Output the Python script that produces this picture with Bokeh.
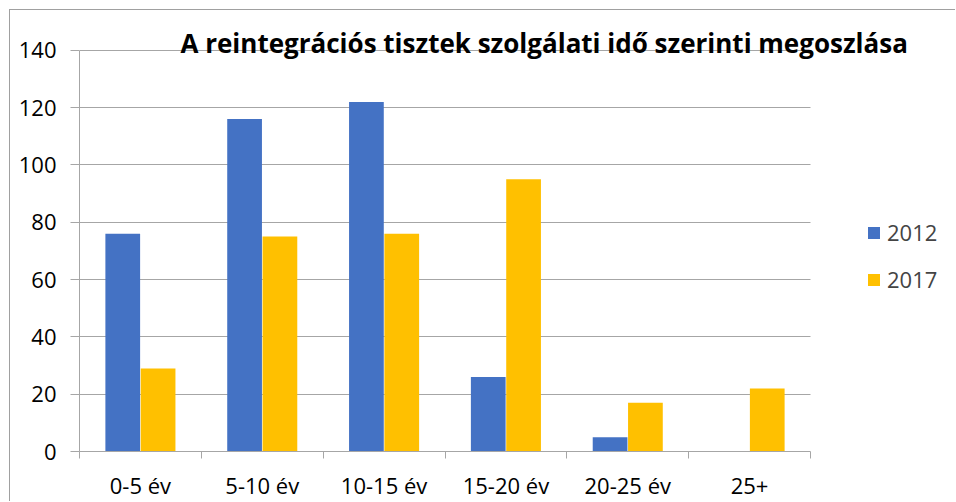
from bokeh.plotting import figure
from bokeh.models import ColumnDataSource, FixedTicker, Label, Legend, LegendItem, Range1d
from bokeh.transform import dodge
from bokeh.embed import file_html
from bokeh.resources import INLINE

categories = ["0-5 év", "5-10 év", "10-15 év", "15-20 év", "20-25 év", "25+"]
series_names = ["2012", "2017"]
values_2012 = [76, 116, 122, 26, 5, 0]
values_2017 = [29, 75, 76, 95, 17, 22]
y_ticks = [0, 20, 40, 60, 80, 100, 120, 140]
title_text = "A reintegrációs tisztek  szolgálati idő szerinti megoszlása"

BLUE = "#4472C4"
YELLOW = "#FFC000"
GRID = "#a6a6a6"
FONT = "Open Sans"

# layout (pixels)
W, H = 946, 492
ML, MB = 69, 49
PLOT_W, PLOT_H = 731, 403   # width of the 6 categories, height of 0..140
n = len(categories)
y_max = y_ticks[-1]
x_end = n * (W - ML) / PLOT_W
y_end = y_max * (H - MB) / PLOT_H

centers = [i + 0.5 for i in range(n)]
src = ColumnDataSource(dict(x=centers, a=values_2012, b=values_2017))

p = figure(width=W, height=H, output_backend="svg", toolbar_location=None,
           x_range=Range1d(0, x_end), y_range=Range1d(0, y_end),
           min_border_left=ML, min_border_right=0, min_border_top=0, min_border_bottom=MB)
p.styles = {"border-left": "1px solid #a0a0a0", "border-top": "1px solid #a0a0a0",
            "margin-left": "9px", "margin-top": "9px"}
p.outline_line_color = None
p.background_fill_color = "white"
p.border_fill_color = "white"

r1 = p.vbar(x=dodge("x", -0.145, range=p.x_range), top="a", width=0.285, source=src,
            fill_color=BLUE, line_color=None)
r2 = p.vbar(x=dodge("x", 0.145, range=p.x_range), top="b", width=0.285, source=src,
            fill_color=YELLOW, line_color=None)

# y axis
p.yaxis.ticker = FixedTicker(ticks=y_ticks)
p.yaxis.bounds = (0, y_max)
p.yaxis.axis_line_color = GRID
p.yaxis.major_tick_line_color = GRID
p.yaxis.major_tick_out = 9
p.yaxis.major_tick_in = 0
p.yaxis.minor_tick_line_color = None
p.yaxis.major_label_text_font = FONT
p.yaxis.major_label_text_font_size = "22px"
p.yaxis.major_label_text_color = "black"
p.yaxis.major_label_standoff = 14
p.ygrid.ticker = FixedTicker(ticks=y_ticks)
p.ygrid.grid_line_color = GRID
p.ygrid.grid_line_width = 1
p.ygrid.cross_bounds = (0, n)

# x axis
p.xaxis.ticker = FixedTicker(ticks=centers, minor_ticks=list(range(n + 1)))
p.xaxis.bounds = (0, n)
p.xaxis.major_label_overrides = {c: lab for c, lab in zip(centers, categories)}
p.xaxis.axis_line_color = GRID
p.xaxis.major_tick_line_color = None
p.xaxis.minor_tick_line_color = GRID
p.xaxis.minor_tick_out = 7
p.xaxis.minor_tick_in = 0
p.xaxis.major_label_text_font = FONT
p.xaxis.major_label_text_font_size = "22px"
p.xaxis.major_label_text_color = "black"
p.xaxis.major_label_standoff = 11
p.xgrid.grid_line_color = None

# title (screen units relative to the frame)
p.add_layout(Label(x=101, y=409, x_units="screen", y_units="screen", text=title_text,
                   text_font=FONT, text_font_style="bold", text_font_size="26px",
                   text_color="black", text_baseline="alphabetic"))

legend = Legend(items=[LegendItem(label=series_names[0], renderers=[r1]),
                       LegendItem(label=series_names[1], renderers=[r2])],
                location=(787, 157), padding=0, margin=0, border_line_color=None,
                background_fill_alpha=0, glyph_width=15, glyph_height=15,
                label_standoff=6, spacing=17, label_height=20,
                label_text_font=FONT, label_text_font_size="22px")
p.add_layout(legend, "center")

open("out.html", "w").write(file_html(p, INLINE))
